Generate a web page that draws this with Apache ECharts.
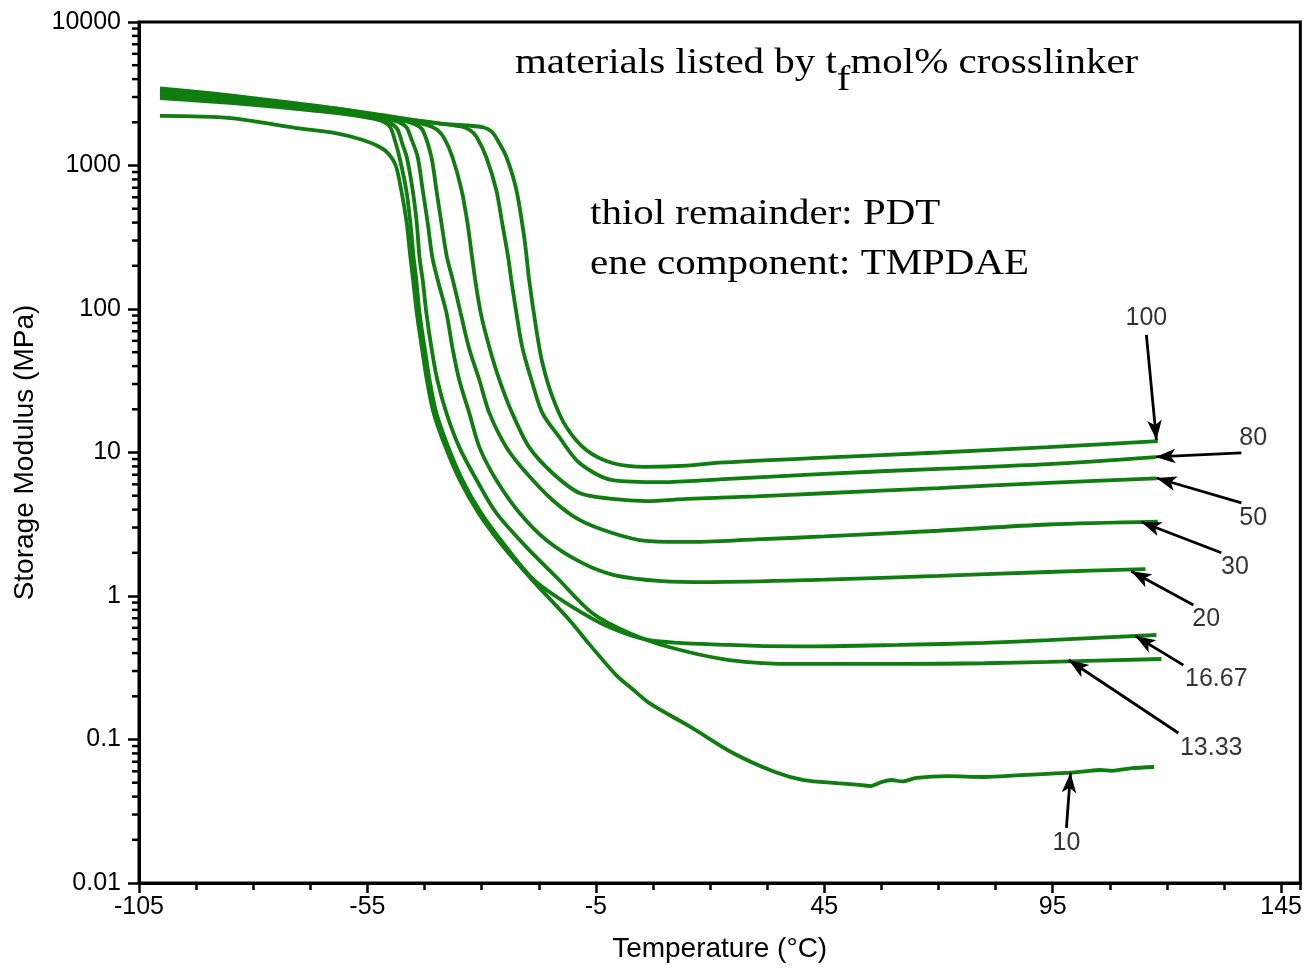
<!DOCTYPE html>
<html><head><meta charset="utf-8">
<script src="https://cdn.jsdelivr.net/npm/echarts@6/dist/echarts.min.js"></script>
<style>html,body{margin:0;padding:0;background:#fff}#c{width:1305px;height:968px}</style>
</head><body><div id="c"></div>
<script>
// ---- tick labels ----
const xTickLabels = ['-105', '-55', '-5', '45', '95', '145'];
const yTickLabels = ['0.01', '0.1', '1', '10', '100', '1000', '10000'];
const yMinorTicks = [0.02,0.03,0.04,0.05,0.06,0.07,0.08,0.09,
  0.2,0.3,0.4,0.5,0.6,0.7,0.8,0.9, 2,3,4,5,6,7,8,9,
  20,30,40,50,60,70,80,90, 200,300,400,500,600,700,800,900,
  2000,3000,4000,5000,6000,7000,8000,9000];

// ---- series: [temperature (°C), storage modulus (MPa)] ----
const seriesNames = ['100', '80', '50', '30', '20', '16.67', '13.33', '10'];
const s100 = [[-100.4,3150],[-90,2950],[-80,2780],[-70,2590],[-60,2400],[-52,2220],[-45,2060],[-39,1960],[-33,1900],[-29.5,1840],[-27.8,1720],[-26.5,1500],[-24.6,1150],[-22.4,675],[-20.6,303],[-19.6,159],[-18.0,71],[-16.7,42],[-14.5,24.4],[-11.5,15.1],[-7.1,10.4],[-1.4,8.45],[6,7.95],[15,8.1],[22,8.5],[45,9.2],[70,10.0],[94,10.9],[118,12.0]];
const s80 = [[-100.4,3350],[-90,3120],[-80,2900],[-70,2680],[-60,2450],[-52,2250],[-45,2080],[-39,1960],[-34.5,1870],[-32.5,1760],[-31.1,1582],[-29.0,1146],[-26.8,675],[-25.5,397],[-24.2,230],[-23.5,159],[-22.4,94],[-21.1,54],[-19.1,32],[-16.7,18.8],[-13.0,12.8],[-8.6,8.45],[-1.4,6.43],[9.5,6.22],[22,6.5],[45,7.1],[70,7.7],[94,8.3],[117.5,9.3]];
const s50 = [[-100.4,3450],[-90,3200],[-80,2950],[-70,2700],[-60,2450],[-52,2200],[-46,2030],[-42,1920],[-39.8,1780],[-38.2,1550],[-36.4,1146],[-34.4,675],[-33.1,397],[-32.1,230],[-31.4,159],[-30.2,94],[-28.3,54],[-26.1,32],[-23.3,18.8],[-19.6,10.9],[-14.5,7.2],[-8.6,5.22],[-1.4,4.75],[6.0,4.59],[15,4.75],[30,4.95],[45,5.2],[70,5.65],[94,6.15],[117.7,6.6]];
const s30 = [[-100.4,3250],[-90,3050],[-80,2850],[-70,2620],[-60,2400],[-52,2180],[-47,2050],[-44.5,1930],[-42.9,1766],[-41.0,1146],[-39.9,675],[-38.8,397],[-37.6,230],[-36.3,159],[-34.6,94],[-32.8,54],[-30.5,32],[-28.3,18.8],[-24.6,10.9],[-20.2,7.2],[-14.5,4.67],[-8.6,3.39],[-1.4,2.75],[6.0,2.42],[15,2.38],[30,2.48],[45,2.6],[70,2.85],[94,3.15],[118,3.3]];
const s20 = [[-100.4,3000],[-90,2850],[-80,2700],[-70,2520],[-60,2330],[-52,2150],[-48.5,2030],[-46.5,1850],[-45.3,1507],[-44.0,1146],[-42.9,675],[-41.8,397],[-40.8,230],[-39.4,150],[-37.7,94],[-36.4,54],[-34.9,32],[-32.7,18.8],[-30.5,10.9],[-26.8,6.43],[-21.7,3.79],[-15.8,2.45],[-8,1.70],[-1,1.40],[9.5,1.27],[20,1.25],[45,1.3],[70,1.38],[94,1.47],[115.3,1.54]];
const s1667 = [[-100.4,2950],[-90,2800],[-80,2650],[-70,2470],[-60,2280],[-54,2130],[-51.5,2020],[-50,1850],[-49,1500],[-48.0,1146],[-46.5,675],[-45.6,397],[-44.9,230],[-44.3,159],[-43.6,94],[-42.5,54],[-41.4,32],[-39.9,18.8],[-37.3,10.9],[-34.2,6.43],[-30.1,3.79],[-24.6,2.19],[-18.5,1.29],[-10.8,0.865],[-2.1,0.608],[6.7,0.493],[24.2,0.456],[39.4,0.445],[61.3,0.456],[80,0.472],[94.1,0.493],[117.7,0.535]];
const s1333 = [[-100.4,3200],[-90,3000],[-80,2800],[-70,2580],[-60,2350],[-54,2160],[-50.5,2020],[-48.5,1800],[-47.3,1400],[-46.4,1146],[-45.1,675],[-44.2,397],[-43.6,230],[-42.9,159],[-42.1,94],[-41.0,54],[-39.7,32],[-37.7,18.8],[-34.9,10.9],[-31.1,6.43],[-26.8,3.79],[-20.2,2.19],[-13.4,1.33],[-5.8,0.762],[2.3,0.552],[11.0,0.441],[24.2,0.358],[39.4,0.336],[61.3,0.336],[80,0.34],[94.1,0.347],[118.8,0.364]];
const s10 = [[-100.4,2215],[-85,2140],[-70.5,1825],[-62,1680],[-56,1507],[-52.3,1345],[-50.3,1200],[-48.8,1000],[-47.6,675],[-46.4,397],[-45.6,230],[-45.0,159],[-44.2,94],[-43.1,54],[-42.0,32],[-40.5,18.8],[-37.9,10.9],[-34.8,6.43],[-30.7,3.79],[-25.2,2.19],[-18.9,1.29],[-10.8,0.681],[-6.4,0.46],[-0.5,0.28],[3.0,0.225],[6.7,0.179],[15.8,0.122],[25.0,0.0805],[34.2,0.0594],[40.5,0.0522],[47.8,0.0497],[52,0.0485],[55.2,0.0474],[57.5,0.0505],[59.8,0.0522],[62,0.051],[65.2,0.054],[72,0.0555],[79.9,0.0548],[88,0.0565],[98.0,0.0585],[102,0.06],[105.4,0.0613],[108,0.0605],[112,0.063],[117.2,0.0643]];
const seriesData = [s100, s80, s50, s30, s20, s1667, s1333, s10];

// ---- annotations (data units) ----
const annTextAt   = [[115.5,86.5],[138.9,12.6],[138.9,3.50],[134.9,1.59],[128.6,0.692],[130.8,0.264],[129.7,0.0873],[98.0,0.0190]];
const annArrowFrom = [[115.5,65.9],[136.3,9.93],[136.3,4.45],[131.9,2.0],[125.8,0.865],[123.6,0.330],[122.5,0.111],[98.0,0.0242]];
const annArrowTo   = [[117.7,12.2],[117.5,9.31],[117.7,6.64],[114.4,3.28],[112.2,1.49],[113.1,0.526],[98.5,0.358],[98.9,0.0585]];

const GREEN = '#0f7d0f';
const SANS = '"Liberation Sans", Arial, sans-serif';
const SERIF = '"Liberation Serif", "Times New Roman", serif';
const X_MIN = -105, X_MAX = 149.2;

const chart = echarts.init(document.getElementById('c'), null, {renderer: 'canvas'});

const series = seriesData.map((d, i) => ({
  name: seriesNames[i], type: 'line', data: d, showSymbol: false,
  smooth: 0.3, clip: true, silent: true,
  lineStyle: {color: GREEN, width: 3.8}, z: 2
}));

// y-axis minor ticks (log 2..9 per decade)
series.push({
  type: 'custom', silent: true, z: 5,
  data: yMinorTicks.map(v => [X_MIN, v]),
  renderItem: function (params, api) {
    const p = api.coord([api.value(0), api.value(1)]);
    return {type: 'line', shape: {x1: p[0] - 7, y1: p[1], x2: p[0], y2: p[1]},
            style: {stroke: '#000', lineWidth: 2.5}};
  }
});

// annotation labels + arrows
series.push({
  type: 'scatter', silent: true, z: 6, symbolSize: 0,
  data: annTextAt.map((p, i) => ({value: p, name: seriesNames[i]})),
  label: {show: true, position: 'inside', formatter: p => p.name,
          color: '#000', fontFamily: SANS, fontSize: 25},
  markLine: {
    silent: true, animation: false, symbol: ['none', 'arrow'], symbolSize: [11, 20],
    lineStyle: {color: '#000', width: 2.8, type: 'solid'}, label: {show: false},
    data: annArrowFrom.map((p, i) => [{coord: p}, {coord: annArrowTo[i]}])
  }
});

// header texts (horizontally stretched serif like the reference)
const ctx = document.createElement('canvas').getContext('2d');
const T_FONT = 35, SX = 1.17;
ctx.font = T_FONT + 'px ' + SERIF;
const w1 = ctx.measureText('materials listed by t').width;
const wf = ctx.measureText('f').width;
const tx = 515, ty = 46;

chart.setOption({
  animation: false,
  backgroundColor: '#fff',
  grid: {left: 139, right: 3, top: 22, bottom: 85, show: true, borderColor: '#000', borderWidth: 3, backgroundColor: 'transparent'},
  xAxis: [{
    type: 'value', min: X_MIN, max: X_MAX, interval: 50, position: 'bottom',
    axisLine: {onZero: false, lineStyle: {color: '#000', width: 3}},
    axisTick: {length: 10, lineStyle: {color: '#000', width: 2.5}},
    axisLabel: {showMaxLabel: false, color: '#000', fontFamily: SANS, fontSize: 25, margin: 12,
      formatter: v => { const i = Math.round((v - X_MIN) / 50); return Math.abs(v - (X_MIN + 50 * i)) < 1e-6 ? (xTickLabels[i] || '') : ''; }},
    splitLine: {show: false},
    name: 'Temperature (°C)', nameLocation: 'middle', nameGap: 52,
    nameTextStyle: {color: '#000', fontFamily: SANS, fontSize: 28}
  }, {
    type: 'value', min: X_MIN, max: X_MAX, interval: 12.5, position: 'bottom',
    axisLine: {show: false, onZero: false}, axisLabel: {show: false}, splitLine: {show: false},
    axisTick: {length: 7, lineStyle: {color: '#000', width: 2.5}}
  }],
  yAxis: {
    type: 'log', logBase: 10, min: 0.01, max: 10000, splitNumber: 6,
    axisLine: {onZero: false, lineStyle: {color: '#000', width: 3}},
    axisTick: {length: 11, lineStyle: {color: '#000', width: 2.5}},
    axisLabel: {color: '#000', fontFamily: SANS, fontSize: 25, margin: 18,
      formatter: v => yTickLabels[Math.round(Math.log10(v)) + 2] || ''},
    splitLine: {show: false}, minorTick: {show: false},
    name: 'Storage Modulus (MPa)', nameLocation: 'middle', nameGap: 100,
    nameTextStyle: {color: '#000', fontFamily: SANS, fontSize: 28}
  },
  graphic: [
    {type: 'text', x: tx, y: ty, scaleX: SX, style: {text: 'materials listed by t', font: T_FONT + 'px ' + SERIF, fill: '#000', textAlign: 'left', textVerticalAlign: 'top'}},
    {type: 'text', x: tx + w1 * SX, y: ty + 17, scaleX: SX, style: {text: 'f', font: T_FONT + 'px ' + SERIF, fill: '#000', textAlign: 'left', textVerticalAlign: 'top'}},
    {type: 'text', x: tx + (w1 + wf) * SX, y: ty, scaleX: SX, style: {text: 'mol% crosslinker', font: T_FONT + 'px ' + SERIF, fill: '#000', textAlign: 'left', textVerticalAlign: 'top'}},
    {type: 'text', x: 590, y: 197, scaleX: SX, style: {text: 'thiol remainder: PDT', font: T_FONT + 'px ' + SERIF, fill: '#000', textAlign: 'left', textVerticalAlign: 'top'}},
    {type: 'text', x: 590, y: 247, scaleX: SX, style: {text: 'ene component: TMPDAE', font: T_FONT + 'px ' + SERIF, fill: '#000', textAlign: 'left', textVerticalAlign: 'top'}}
  ],
  series: series
});
</script>
</body></html>
